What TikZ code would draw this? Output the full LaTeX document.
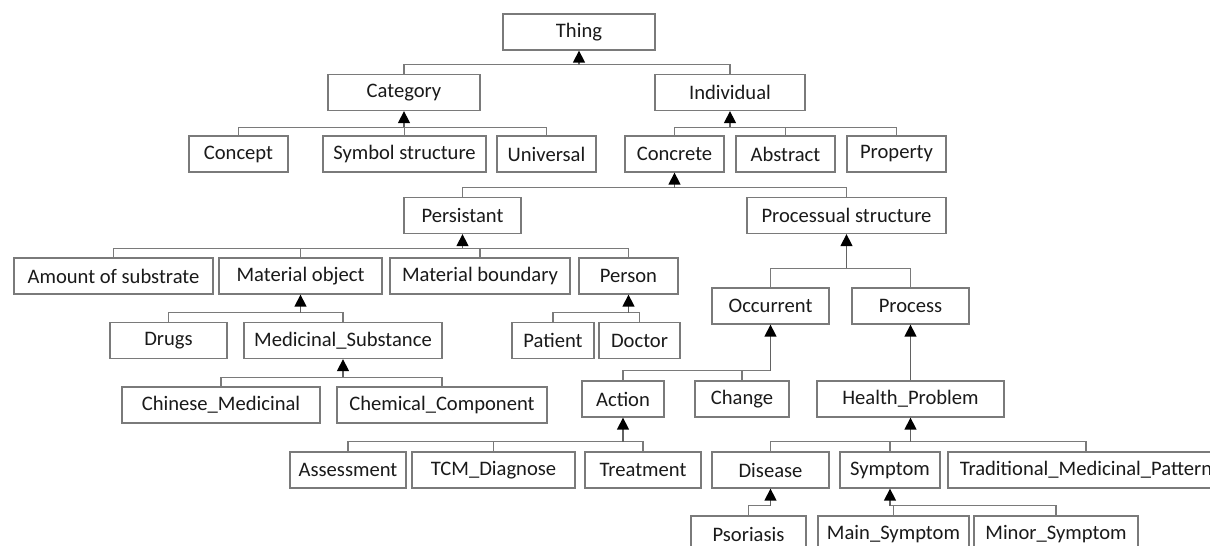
\documentclass[tikz,border=0pt]{standalone}
\usepackage{fontspec}
\setmainfont{Carlito}
\usetikzlibrary{arrows.meta}
\definecolor{boxgray}{HTML}{7A7A7A}
\definecolor{textgray}{HTML}{1A1A1A}
\begin{document}
\begin{tikzpicture}[x=1pt,y=-1pt,
  box/.style={draw=boxgray,line width=1.3pt,minimum height=36pt,inner sep=0pt,
    font=\fontsize{20.6}{24}\selectfont,text=textgray,fill=white},
  link/.style={draw=boxgray,line width=1.3pt},
  isa/.style={draw=boxgray!80!black,line width=1.4pt,-{Triangle[width=12pt,length=12pt,color=black]}}]
\useasboundingbox (0,0) rectangle (1210,546);
\clip (0,0) rectangle (1210,546);
\fill[white] (0,0) rectangle (1210,546);

% nodes
\node[box,minimum width=152pt] (thing) at (579,32) {Thing};
\node[box,minimum width=152pt] (cat) at (404,92.5) {Category};
\node[box,minimum width=150pt] (ind) at (730,92.5) {Individual};
\node[box,minimum width=99pt] (concept) at (238.5,154) {Concept};
\node[box,minimum width=163pt] (symbol) at (404.5,154) {Symbol structure};
\node[box,minimum width=99pt] (universal) at (546.5,154) {Universal};
\node[box,minimum width=99pt] (concrete) at (674.5,154) {Concrete};
\node[box,minimum width=99pt] (abstract) at (785.5,154) {Abstract};
\node[box,minimum width=99pt] (property) at (896.5,154) {Property};
\node[box,minimum width=117pt] (persist) at (462.5,215.5) {Persistant};
\node[box,minimum width=199pt] (procs) at (846.5,215.5) {Processual structure};
\node[box,minimum width=199pt] (amount) at (113.5,276) {Amount of substrate};
\node[box,minimum width=163pt] (matobj) at (300.5,276) {Material object};
\node[box,minimum width=180pt] (matbound) at (480,276) {Material boundary};
\node[box,minimum width=99pt] (person) at (628.5,276) {Person};
\node[box,minimum width=117pt] (drugs) at (168.5,340.5) {Drugs};
\node[box,minimum width=198pt] (medsub) at (343,340.5) {Medicinal\_Substance};
\node[box,minimum width=82pt] (patient) at (553,340.5) {Patient};
\node[box,minimum width=81pt] (doctor) at (639.5,340.5) {Doctor};
\node[box,minimum width=117pt] (occurrent) at (770.5,306) {Occurrent};
\node[box,minimum width=117pt] (process) at (910.5,306) {Process};
\node[box,minimum width=198pt] (chinese) at (221,405) {Chinese\_Medicinal};
\node[box,minimum width=210pt] (chemical) at (442,405) {Chemical\_Component};
\node[box,minimum width=82pt] (action) at (623,399) {Action};
\node[box,minimum width=94pt] (change) at (742,399) {Change};
\node[box,minimum width=187pt] (health) at (910.5,399) {Health\_Problem};
\node[box,minimum width=116pt] (assess) at (348,470) {Assessment};
\node[box,minimum width=163pt] (tcm) at (493.5,470) {TCM\_Diagnose};
\node[box,minimum width=116pt] (treat) at (643,470) {Treatment};
\node[box,minimum width=117pt] (disease) at (770.5,470) {Disease};
\node[box,minimum width=100pt] (symptom) at (890,470) {Symptom};
\node[box,minimum width=276pt] (tmp) at (1086,470) {Traditional\_Medicinal\_Pattern};
\node[box,minimum width=115pt] (psor) at (748.5,534) {Psoriasis};
\node[box,minimum width=151pt] (mainsym) at (893.5,534) {Main\_Symptom};
\node[box,minimum width=164pt] (minorsym) at (1056,534) {Minor\_Symptom};

% bus points
\path (thing.south) ++(0,14) coordinate (bThing);
\path (cat.south) ++(0,16) coordinate (bCat);
\path (ind.south) ++(0,16) coordinate (bInd);
\path (concrete.south) ++(0,15) coordinate (bConc);
\path (persist.south) ++(0,14) coordinate (bPers);
\path (procs.south) ++(0,34) coordinate (bProcs);
\path (matobj.south) ++(0,18) coordinate (bMat);
\path (medsub.south) ++(0,18) coordinate (bMed);
\path (person.south) ++(0,18) coordinate (bPerson);
\path (occurrent.south) ++(0,46) coordinate (bOcc);
\path (action.south) ++(0,24) coordinate (bAct);
\path (health.south) ++(0,24) coordinate (bHealth);
\path (disease.south) ++(0,17) coordinate (bDis);
\path (symptom.south) ++(0,17) coordinate (bSym);

% links
\draw[link] (cat.north) |- (bThing);
\draw[link] (ind.north) |- (bThing);
\draw[isa] (bThing) -- (thing.south);

\draw[link] (concept.north) |- (bCat);
\draw[link] (symbol.north) |- (bCat);
\draw[link] (universal.north) |- (bCat);
\draw[isa] (bCat) -- (cat.south);

\draw[link] (concrete.north) |- (bInd);
\draw[link] (abstract.north) |- (bInd);
\draw[link] (property.north) |- (bInd);
\draw[isa] (bInd) -- (ind.south);

\draw[link] (persist.north) |- (bConc);
\draw[link] (procs.north) |- (bConc);
\draw[isa] (bConc) -- (concrete.south);

\draw[link] (amount.north) |- (bPers);
\draw[link] (matobj.north) |- (bPers);
\draw[link] (matbound.north) |- (bPers);
\draw[link] (person.north) |- (bPers);
\draw[isa] (bPers) -- (persist.south);

\draw[link] (occurrent.north) |- (bProcs);
\draw[link] (process.north) |- (bProcs);
\draw[isa] (bProcs) -- (procs.south);

\draw[link] (drugs.north) |- (bMat);
\draw[link] (medsub.north) |- (bMat);
\draw[isa] (bMat) -- (matobj.south);

\draw[link] (chinese.north) |- (bMed);
\draw[link] (chemical.north) |- (bMed);
\draw[isa] (bMed) -- (medsub.south);

\draw[link] (patient.north) |- (bPerson);
\draw[link] (doctor.north) |- (bPerson);
\draw[isa] (bPerson) -- (person.south);

\draw[link] (action.north) |- (bOcc);
\draw[link] (change.north) |- (bOcc);
\draw[isa] (bOcc) -- (occurrent.south);

\draw[isa] (health.north) -- (process.south);

\draw[link] (assess.north) |- (bAct);
\draw[link] (tcm.north) |- (bAct);
\draw[link] (treat.north) |- (bAct);
\draw[isa] (bAct) -- (action.south);

\draw[link] (disease.north) |- (bHealth);
\draw[link] (symptom.north) |- (bHealth);
\draw[link] (tmp.north) |- (bHealth);
\draw[isa] (bHealth) -- (health.south);

\draw[link] (psor.north) |- (bDis);
\draw[isa] (bDis) -- (disease.south);

\draw[link] (mainsym.north) |- (bSym);
\draw[link] (minorsym.north) |- (bSym);
\draw[isa] (bSym) -- (symptom.south);
\end{tikzpicture}
\end{document}
